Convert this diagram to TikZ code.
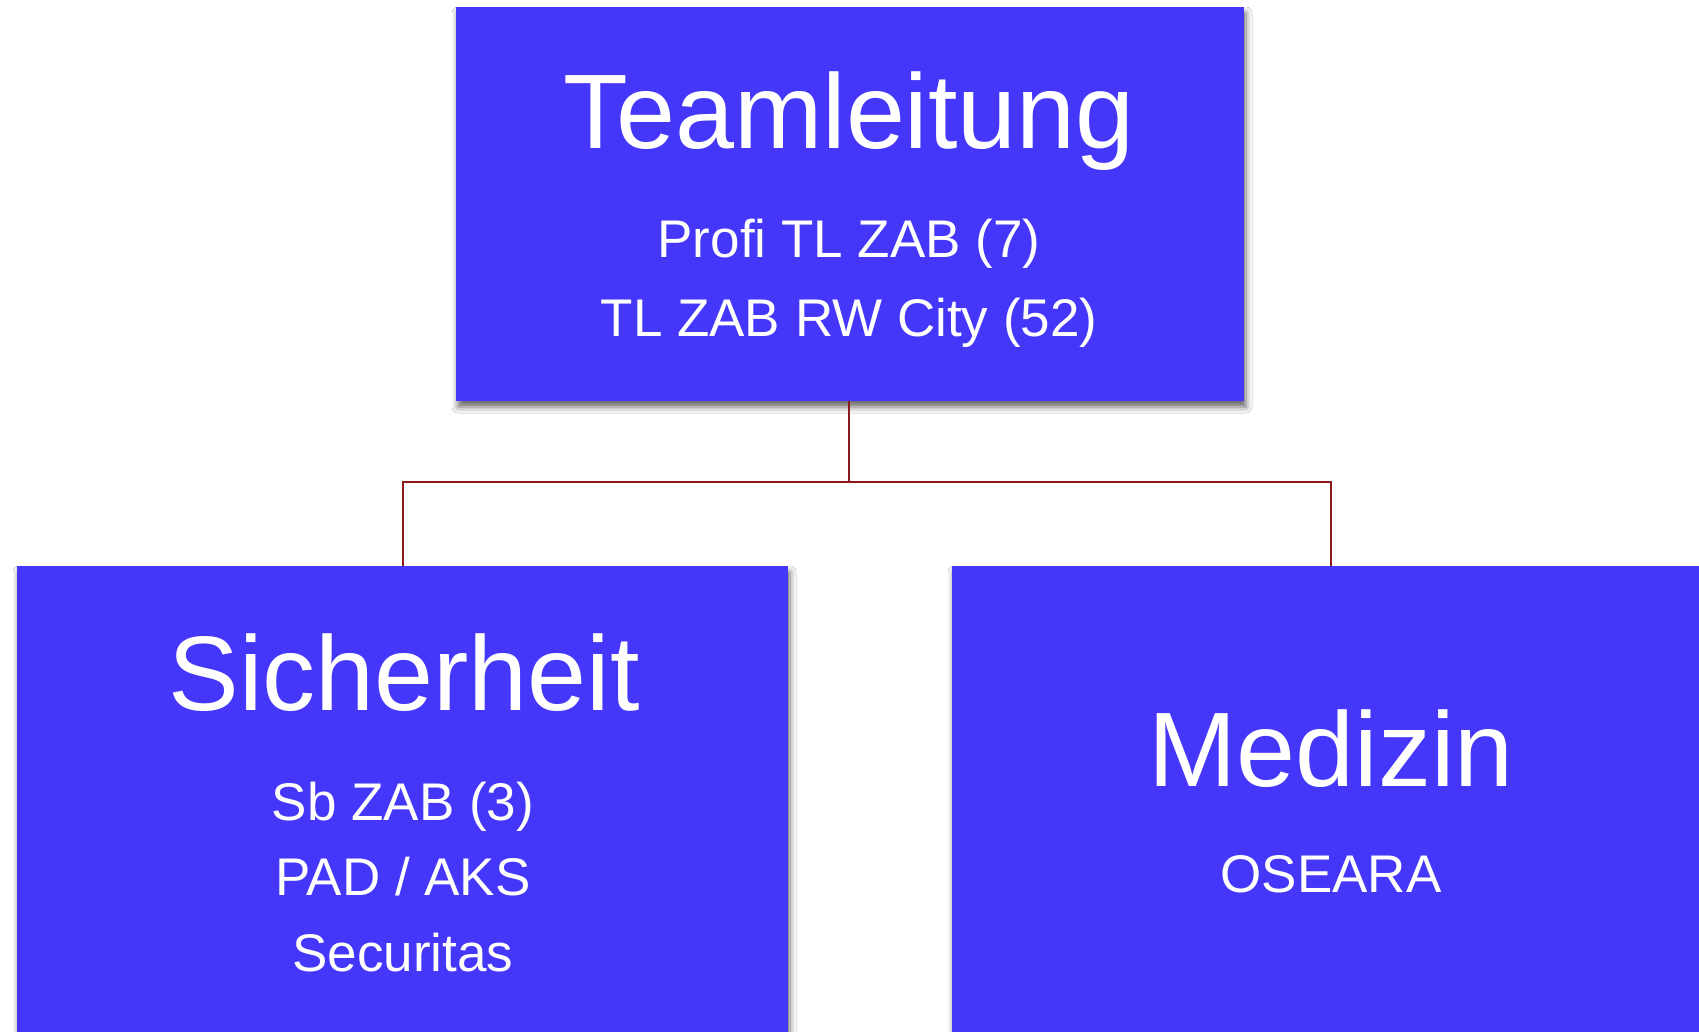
\documentclass[tikz,border=0pt]{standalone}
\usepackage{fontspec}
\setmainfont{Liberation Sans}
\usetikzlibrary{shadows.blur}
\definecolor{boxblue}{RGB}{69,55,250}
\definecolor{connred}{RGB}{140,25,25}
\tikzset{
  orgbox/.style={rectangle, fill=boxblue, draw=none, inner sep=0pt,
    blur shadow={shadow xshift=2pt, shadow yshift=-6pt, shadow blur radius=6pt, shadow opacity=60}},
  conn/.style={draw=connred, line width=2pt},
  bigtxt/.style={anchor=base, text=white, font=\fontsize{106}{120}\selectfont, inner sep=0pt},
  smalltxt/.style={anchor=base, text=white, font=\fontsize{53}{64}\selectfont, inner sep=0pt}
}
\begin{document}
\begin{tikzpicture}[x=1pt, y=-1pt]
\useasboundingbox (0,0) rectangle (1699,1032);
\clip (0,0) rectangle (1699,1032);
\fill[white] (0,0) rectangle (1699,1032);
% boxes
\node[orgbox, minimum width=788pt, minimum height=394pt] (top) at (850,204) {};
\node[orgbox, minimum width=771pt, minimum height=534pt] (left) at (402.5,833) {};
\node[orgbox, minimum width=758pt, minimum height=534pt] (right) at (1331,833) {};
% connectors
\coordinate (j) at (849,482);
\draw[conn] (top.south -| j) -- (j);
\draw[conn] (left.north) |- (j) -| (right.north);
% texts
\node[bigtxt] (t1) at (849,149) {Teamleitung};
\node[smalltxt] (t2) at (849,258) {Profi TL ZAB (7)};
\node[smalltxt] (t3) at (849,336) {TL ZAB RW City (52)};
\node[bigtxt] (s1) at (404,710) {Sicherheit};
\node[smalltxt] (s2) at (403,820) {Sb ZAB (3)};
\node[smalltxt] (s3) at (403,895) {PAD / AKS};
\node[smalltxt] (s4) at (403,971) {Securitas};
\node[bigtxt] (m1) at (1331,786) {Medizin};
\node[smalltxt] (m2) at (1331,892) {OSEARA};
\end{tikzpicture}
\end{document}
